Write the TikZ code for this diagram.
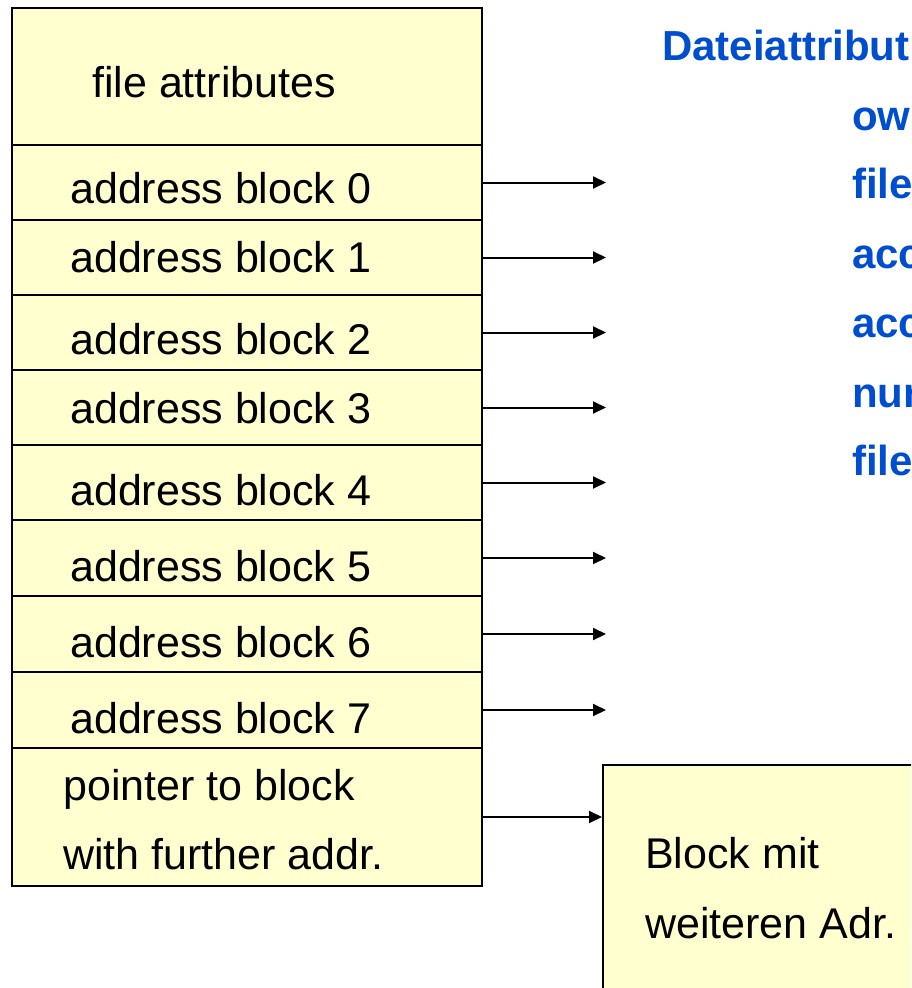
\documentclass[tikz,border=0pt]{standalone}
\usepackage{fontspec}
\setmainfont{Liberation Sans}
\usetikzlibrary{arrows.meta}
\definecolor{cellfill}{RGB}{255,255,208}
\definecolor{attrblue}{RGB}{0,78,208}

\begin{document}
\begin{tikzpicture}[x=1pt,y=-1pt,
  cell/.style={draw, line width=2pt, fill=cellfill, minimum width=470pt, inner sep=0pt},
  lbl/.style={font=\fontsize{43}{50}\selectfont, inner sep=0pt, anchor=base west},
  attr/.style={lbl, font=\fontsize{42}{50}\selectfont\bfseries, text=attrblue},
  ptr/.style={line width=2pt, -{Triangle[length=13pt,width=12pt]}}]
\useasboundingbox (0,0) rectangle (911,988);
\clip (0,0) rectangle (911,988);
% i-node
\node[cell, minimum height=137pt] (fa) at (247,76.5) {};
\node[lbl] (tfa) at (92,97) {file attributes};
\foreach \i/\yc/\h/\yt in {0/182.5/75/203, 1/257.5/75/272, 2/332.5/75/354, 3/407.5/75/423,
    4/482.5/75/505, 5/558/76/581, 6/634/76/657, 7/710/76/733} {
  \node[cell, minimum height=\h pt] (r\i) at (247,\yc) {};
  \node[lbl] (t\i) at (70,\yt) {address block \i};
  \coordinate (e\i) at (606,\yc);
  \draw[ptr] (r\i.east) -- (e\i);
}
\node[cell, minimum height=138pt] (pt) at (247,817) {};
\node[lbl] (tpt1) at (63,800) {pointer to block};
\node[lbl] (tpt2) at (63,869) {with further addr.};
% indirect block
\node[cell, minimum width=360pt, minimum height=300pt, anchor=north west] (blk) at (602,764) {};
\node[lbl] (tb1) at (645,868) {Block mit};
\node[lbl] (tb2) at (645,938) {weiteren Adr.};
\draw[ptr] (pt.east) -- (pt.east -| blk.west);
% attributes
\node[attr] (hd) at (662,60) {Dateiattribut};
\foreach \n/\yb/\txt in {a1/130/ow, a2/198/file, a3/268/acc, a4/337/acc, a5/407/nur, a6/475/file}
  \node[attr] (\n) at (852,\yb) {\txt};
\end{tikzpicture}
\end{document}
